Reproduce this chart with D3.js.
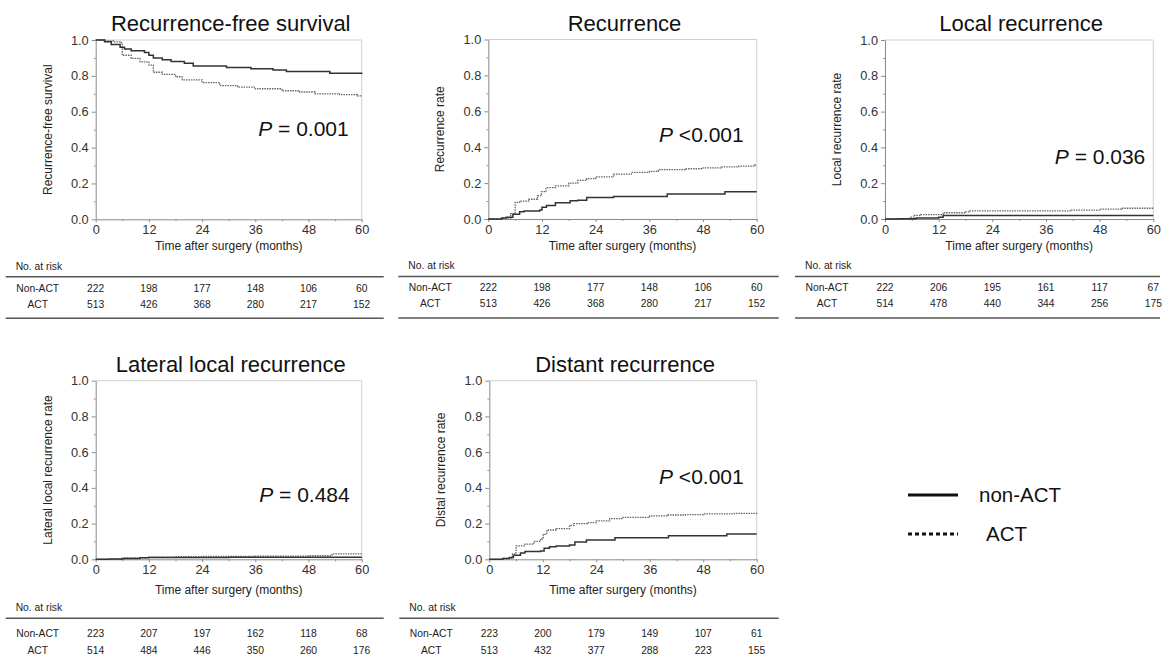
<!doctype html>
<html>
<head>
<meta charset="utf-8">
<script src="https://cdnjs.cloudflare.com/ajax/libs/d3/7.8.5/d3.min.js"></script>
<style>
  body { margin: 0; background: #fff; }
  svg { font-family: "Liberation Sans", Arial, sans-serif; }
</style>
</head>
<body>
<svg width="1166" height="661"></svg>
<script>
// time ticks and risk table columns
const timeTicks = [0, 12, 24, 36, 48, 60];
const minorTime = [6, 18, 30, 42, 54];
const yTicks = [0, 0.2, 0.4, 0.6, 0.8, 1.0];
const yMinor = [0.1, 0.3, 0.5, 0.7, 0.9];
const groups = ["Non-ACT", "ACT"];

// step curves: [month, value]
const rfsNonAct = [[0,1],[2,0.99],[3.5,0.975],[5.5,0.96],[6.5,0.95],[8,0.94],[11,0.93],[12,0.915],[13,0.9],[15,0.89],[17,0.88],[20,0.87],[22,0.855],[29.5,0.846],[35,0.84],[40,0.832],[43,0.825],[52.8,0.815],[60,0.81]];
const rfsAct = [[0,1],[2,0.995],[4,0.99],[5.5,0.985],[6,0.915],[8,0.897],[10,0.878],[12,0.86],[13,0.82],[15,0.808],[18,0.795],[19.5,0.778],[24,0.762],[28,0.745],[32,0.737],[36,0.728],[42,0.717],[46,0.71],[49.5,0.7],[55,0.695],[59,0.688],[60,0.686]];

const recNonAct = [[0,0],[3,0.005],[4,0.01],[5.5,0.026],[7,0.04],[8,0.045],[11.5,0.05],[12,0.065],[13,0.075],[15,0.09],[18.3,0.102],[20,0.105],[22,0.12],[28,0.126],[40,0.139],[52.9,0.152],[60,0.152]];
const recAct = [[0,0],[3,0.005],[5,0.03],[6,0.093],[7,0.1],[9,0.11],[11,0.13],[11.9,0.152],[12.9,0.175],[15,0.185],[18,0.2],[20,0.215],[22,0.225],[24,0.235],[28,0.25],[32,0.26],[36,0.265],[38,0.275],[44,0.28],[48,0.285],[52,0.29],[56,0.295],[59.5,0.3],[60,0.3]];

const locNonAct = [[0,0],[3,0.001],[7,0.005],[12,0.01],[13,0.02],[60,0.02]];
const locAct = [[0,0],[5.6,0.01],[6.5,0.02],[8,0.025],[13,0.035],[18,0.04],[19,0.045],[41.7,0.05],[48,0.055],[52.9,0.06],[60,0.06]];

const latNonAct = [[0,0],[3,0.001],[6,0.005],[10,0.008],[12,0.01],[30,0.011],[60,0.012]];
const latAct = [[0,0],[4,0.002],[6.5,0.008],[12,0.012],[18,0.015],[24,0.016],[36,0.018],[48,0.02],[53.3,0.03],[60,0.03]];

const disNonAct = [[0,0],[3,0.005],[4.5,0.01],[5.4,0.022],[7,0.035],[8,0.043],[11.5,0.047],[12.3,0.062],[13.5,0.07],[15,0.075],[18,0.08],[19.2,0.097],[21.8,0.108],[28.2,0.12],[40.2,0.132],[53.3,0.142],[60,0.142]];
const disAct = [[0,0],[3,0.005],[5.2,0.03],[6,0.075],[8,0.085],[10,0.1],[11.5,0.115],[12.1,0.14],[12.9,0.164],[15,0.172],[18,0.19],[19,0.2],[22,0.205],[24,0.215],[27,0.228],[30,0.235],[36,0.243],[40,0.248],[44,0.25],[48,0.254],[55,0.257],[60,0.261]];

// numbers at risk
const riskRfsNonAct = [222, 198, 177, 148, 106, 60];
const riskRfsAct = [513, 426, 368, 280, 217, 152];
const riskRecNonAct = [222, 198, 177, 148, 106, 60];
const riskRecAct = [513, 426, 368, 280, 217, 152];
const riskLocNonAct = [222, 206, 195, 161, 117, 67];
const riskLocAct = [514, 478, 440, 344, 256, 175];
const riskLatNonAct = [223, 207, 197, 162, 118, 68];
const riskLatAct = [514, 484, 446, 350, 260, 176];
const riskDisNonAct = [223, 200, 179, 149, 107, 61];
const riskDisAct = [513, 432, 377, 288, 223, 155];

const titles = ["Recurrence-free survival", "Recurrence", "Local recurrence", "Lateral local recurrence", "Distant recurrence"];
const yLabels = ["Recurrence-free survival", "Recurrence rate", "Local recurrence rate", "Lateral local recurrence rate", "Distal recurrence rate"];
const pLabels = ["= 0.001", "<0.001", "= 0.036", "= 0.484", "<0.001"];

const panels = [
  {x0: 95.7, x1: 361.7, top: 40, bot: 219.3, row: 0, pY: 0.465, pDx: 13, nonAct: rfsNonAct, act: rfsAct, rN: riskRfsNonAct, rA: riskRfsAct},
  {x0: 488.3, x1: 756.7, top: 39.5, bot: 219, row: 0, pY: 0.43, pDx: 13, nonAct: recNonAct, act: recAct, rN: riskRecNonAct, rA: riskRecAct},
  {x0: 885, x1: 1153.3, top: 40, bot: 219, row: 0, pY: 0.31, pDx: 8, nonAct: locNonAct, act: locAct, rN: riskLocNonAct, rA: riskLocAct},
  {x0: 95.7, x1: 361.7, top: 380.7, bot: 559.3, row: 1, pY: 0.32, pDx: 12, nonAct: latNonAct, act: latAct, rN: riskLatNonAct, rA: riskLatAct},
  {x0: 489.3, x1: 756.7, top: 380.7, bot: 559.3, row: 1, pY: 0.42, pDx: 13, nonAct: disNonAct, act: disAct, rN: riskDisNonAct, rA: riskDisAct}
];
// vertical offsets below the plot for the title and risk table, per row
const rowLayout = [
  {xTitle: 31, noRisk: 46.5, line1: 57.5, r1: 68.5, r2: 84.5, line2: 99},
  {xTitle: 35, noRisk: 48, line1: 59, r1: 74, r2: 91, line2: 110}
];

const svg = d3.select("svg");
svg.append("rect").attr("width", 1166).attr("height", 661).attr("fill", "#fff");

panels.forEach((p, i) => {
  const x = d3.scaleLinear().domain([0, 60]).range([p.x0, p.x1]);
  const y = d3.scaleLinear().domain([0, 1]).range([p.bot, p.top]);
  const L = rowLayout[p.row];
  const g = svg.append("g");

  // light frame top/right
  g.append("path")
    .attr("d", `M${p.x0},${p.top}H${p.x1}V${p.bot}`)
    .attr("fill", "none").attr("stroke", "#cfcfcf").attr("stroke-width", 1);

  // minor ticks
  g.append("g").attr("transform", `translate(${p.x0},0)`)
    .call(d3.axisLeft(y).tickValues(yMinor).tickSize(2).tickFormat(""))
    .call(a => a.select(".domain").remove())
    .selectAll("line").attr("stroke", "#999");
  g.append("g").attr("transform", `translate(0,${p.bot})`)
    .call(d3.axisBottom(x).tickValues(minorTime).tickSize(2).tickFormat(""))
    .call(a => a.select(".domain").remove())
    .selectAll("line").attr("stroke", "#999");

  const yAx = g.append("g").attr("transform", `translate(${p.x0},0)`)
    .call(d3.axisLeft(y).tickValues(yTicks).tickSize(4).tickSizeOuter(0).tickPadding(3).tickFormat(d3.format(".1f")));
  const xAx = g.append("g").attr("transform", `translate(0,${p.bot})`)
    .call(d3.axisBottom(x).tickValues(timeTicks).tickSize(3).tickSizeOuter(0).tickPadding(3));
  [yAx, xAx].forEach(a => {
    a.select(".domain").attr("stroke", "#8a8a8a");
    a.selectAll(".tick line").attr("stroke", "#8a8a8a");
    a.selectAll("text").attr("fill", "#333").attr("font-size", 12.8)
      .attr("font-family", "'Liberation Sans', Arial, sans-serif");
  });

  // curves
  const line = d3.line().x(d => x(d[0])).y(d => y(d[1])).curve(d3.curveStepAfter);
  g.append("path").datum(p.act).attr("d", line)
    .attr("fill", "none").attr("stroke", "#666").attr("stroke-width", 1.3)
    .attr("stroke-dasharray", "1.5,1");
  g.append("path").datum(p.nonAct).attr("d", line)
    .attr("fill", "none").attr("stroke", "#333").attr("stroke-width", 1.5);

  // title
  g.append("text").attr("x", (p.x0 + p.x1) / 2 + 2).attr("y", p.top - 9)
    .attr("text-anchor", "middle").attr("font-size", 22).attr("fill", "#111")
    .text(titles[i]);

  // y title
  g.append("text")
    .attr("transform", `translate(${p.x0 - 44},${(p.top + p.bot) / 2}) rotate(-90)`)
    .attr("text-anchor", "middle").attr("font-size", 12).attr("fill", "#222")
    .text(yLabels[i]);

  // x title
  g.append("text").attr("x", (p.x0 + p.x1) / 2).attr("y", p.bot + L.xTitle)
    .attr("text-anchor", "middle").attr("font-size", 12).attr("fill", "#222")
    .text("Time after surgery (months)");

  // p value
  const pt = g.append("text").attr("x", p.x1 - p.pDx).attr("y", y(p.pY))
    .attr("text-anchor", "end").attr("font-size", 21).attr("fill", "#111");
  pt.append("tspan").attr("font-style", "italic").text("P");
  pt.append("tspan").text(" " + pLabels[i]);

  // risk table
  const t = svg.append("g").attr("font-size", 10.3).attr("fill", "#222");
  t.append("text").attr("x", p.x0 - 80).attr("y", p.bot + L.noRisk + 3.7).text("No. at risk");
  [L.line1, L.line2].forEach(off => {
    t.append("line").attr("x1", p.x0 - 90).attr("x2", Math.min(p.x1 + 22, 1160))
      .attr("y1", p.bot + off).attr("y2", p.bot + off)
      .attr("stroke", "#555").attr("stroke-width", 1.6);
  });
  [p.rN, p.rA].forEach((vals, k) => {
    const yy = p.bot + (k === 0 ? L.r1 : L.r2) + 3.7;
    t.append("text").attr("x", p.x0 - 58).attr("y", yy).attr("text-anchor", "middle").text(groups[k]);
    t.selectAll(null).data(vals).enter().append("text")
      .attr("x", (d, j) => x(timeTicks[j])).attr("y", yy)
      .attr("text-anchor", "middle").text(d => d);
  });
});

// legend
const legend = [
  {label: "non-ACT", dash: null, y: 495, tx: 979},
  {label: "ACT", dash: "4,3", y: 534, tx: 986}
];
legend.forEach(l => {
  svg.append("line").attr("x1", 908).attr("x2", 958).attr("y1", l.y).attr("y2", l.y)
    .attr("stroke", "#111").attr("stroke-width", 3)
    .attr("stroke-dasharray", l.dash);
  svg.append("text").attr("x", l.tx).attr("y", l.y + 7).attr("font-size", 20.5)
    .attr("fill", "#111").text(l.label);
});
</script>
</body>
</html>
